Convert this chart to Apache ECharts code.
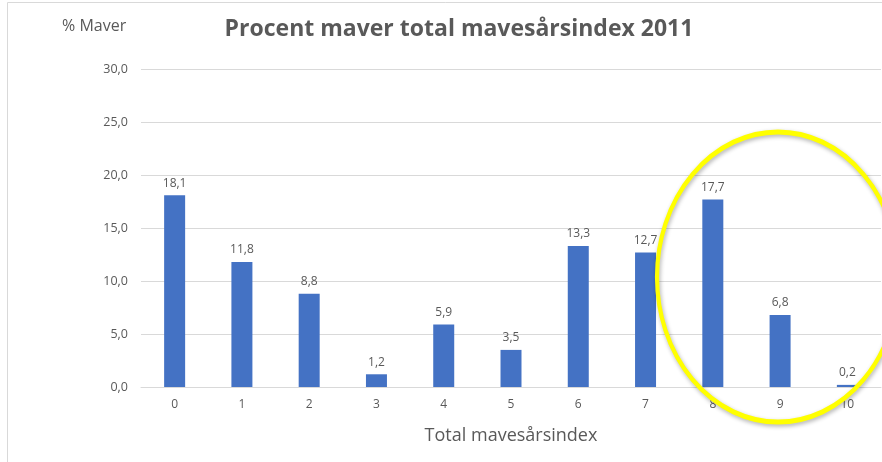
<!DOCTYPE html>
<html><head><meta charset="utf-8">
<script src="https://cdn.jsdelivr.net/npm/echarts@6/dist/echarts.min.js"></script>
<style>html,body{margin:0;padding:0;background:#fff}#c{width:882px;height:462px}</style>
</head><body><div id="c"></div>
<script>
const categories = ['0','1','2','3','4','5','6','7','8','9','10'];
const values = [18.1, 11.8, 8.8, 1.2, 5.9, 3.5, 13.3, 12.7, 17.7, 6.8, 0.2];
const yTicks = [0, 5, 10, 15, 20, 25, 30];
const titleText = 'Procent maver total mavesårsindex 2011';
const yName = '% Maver';
const xName = 'Total mavesårsindex';

const fmt = v => v.toFixed(1).replace('.', ',');
const font = 'Open Sans';
const chart = echarts.init(document.getElementById('c'));
chart.setOption({
  animation: false,
  textStyle: {fontFamily: font},
  title: {text: titleText, left: 454, top: 13, textAlign: 'center',
    textStyle: {fontFamily: font, fontSize: 23, fontWeight: 'bold', color: '#595959'}},
  grid: {left: 141, right: 1, top: 69, bottom: 75},
  xAxis: {type: 'category', data: categories,
    axisLine: {lineStyle: {color: '#d9d9d9'}}, axisTick: {show: false},
    axisLabel: {color: '#595959', fontSize: 12, margin: 12},
    name: xName, nameLocation: 'middle', nameGap: 40,
    nameTextStyle: {color: '#595959', fontSize: 18}},
  yAxis: {type: 'value', min: yTicks[0], max: yTicks[yTicks.length-1], interval: 5,
    axisLabel: {color: '#595959', fontSize: 12.5, margin: 13, formatter: v => fmt(v)},
    splitLine: {lineStyle: {color: '#d9d9d9'}},
    axisLine: {show: false}, axisTick: {show: false}},
  graphic: [
    {type: 'rect', shape: {x: 7.5, y: 2.5, width: 1000, height: 600}, style: {fill: null, stroke: '#d9d9d9', lineWidth: 1}, silent: true},
    {type: 'text', left: 62, top: 18, style: {text: yName, fill: '#595959', fontSize: 16, fontFamily: font}},
    {type: 'circle', x: 778, y: 277, scaleX: 121/145, scaleY: 1, shape: {cx: 0, cy: 0, r: 145}, z: 100,
      style: {fill: null, stroke: '#ffff00', lineWidth: 5, strokeNoScale: true,
        shadowBlur: 4, shadowColor: 'rgba(0,0,0,0.3)', shadowOffsetX: 1, shadowOffsetY: 2}}
  ],
  series: [{type: 'bar', data: values, barWidth: 21,
    itemStyle: {color: '#4472c4'},
    label: {show: true, position: 'top', distance: 6, color: '#595959', fontSize: 12, formatter: p => fmt(p.value)}}]
});
</script></body></html>
